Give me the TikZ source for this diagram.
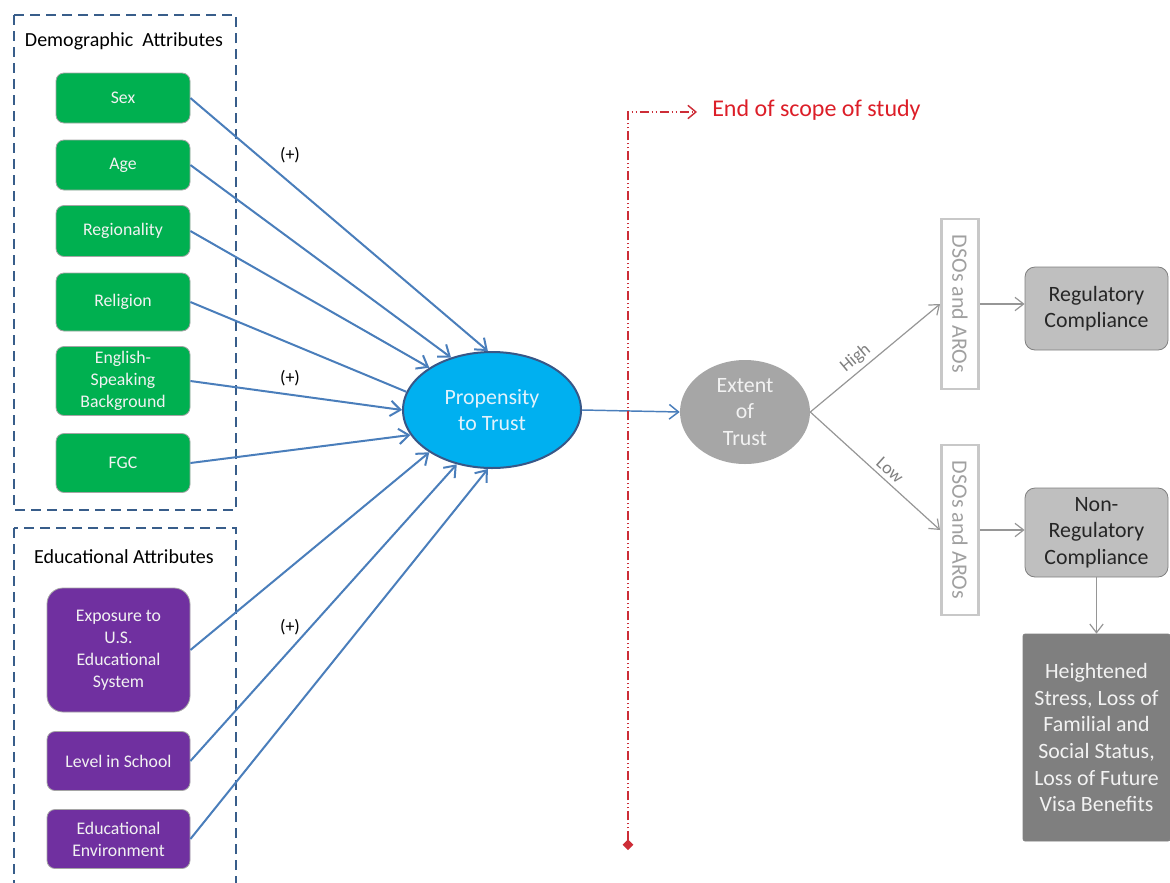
\documentclass[tikz,border=0pt]{standalone}
\usepackage{fontspec}
\setmainfont{Carlito}
\usetikzlibrary{arrows.meta,shapes.geometric}
\newdimen\PX \PX=0.75pt
\definecolor{mygreen}{RGB}{0,176,80}
\definecolor{mypurple}{RGB}{112,48,160}
\definecolor{boxline}{RGB}{165,165,165}
\definecolor{boxtext}{RGB}{242,242,242}
\definecolor{linkblue}{RGB}{74,126,187}
\definecolor{groupblue}{RGB}{56,93,138}
\definecolor{propfill}{RGB}{0,176,240}
\definecolor{propline}{RGB}{56,87,135}
\definecolor{proptext}{RGB}{225,242,252}
\definecolor{extfill}{RGB}{166,166,166}
\definecolor{greyline}{RGB}{150,150,150}
\definecolor{dsoline}{RGB}{200,200,200}
\definecolor{dsotext}{RGB}{160,160,160}
\definecolor{regfill}{RGB}{191,191,191}
\definecolor{regline}{RGB}{127,127,127}
\definecolor{darkgrey}{RGB}{127,127,127}
\definecolor{scopered}{RGB}{220,30,40}
\definecolor{scopeline}{RGB}{205,45,55}
\newcommand{\fTitle}{\fontsize{15}{18}\selectfont}
\newcommand{\fBox}{\fontsize{13.3}{16.5}\selectfont}
\newcommand{\fBig}{\fontsize{16.4}{20}\selectfont}
\newcommand{\fScope}{\fontsize{18}{22}\selectfont}
\newcommand{\fDso}{\fontsize{16.5}{20}\selectfont}
\newcommand{\fSmall}{\fontsize{13.5}{16}\selectfont}
\tikzset{
  gbox/.style={draw=boxline, line width=0.6pt, fill=mygreen, rounded corners=8\PX,
    minimum width=134\PX, inner sep=1pt, align=center, text=boxtext, font=\fBox},
  pbox/.style={gbox, fill=mypurple, minimum width=143\PX},
  groupbox/.style={draw=groupblue, line width=1.5pt, dash pattern=on 7.5pt off 4.5pt},
  grouptitle/.style={font=\fTitle, text=black},
  link/.style={draw=linkblue, line width=1.5pt, -{Straight Barb[length=7.5pt,width=11.5pt]}},
  linkline/.style={draw=linkblue, line width=1.5pt},
  plus/.style={font=\fSmall, text=black},
  greyarrow/.style={draw=greyline, line width=0.9pt, -{Straight Barb[length=6.5pt,width=10pt]}},
  dsobox/.style={draw=dsoline, line width=2.2pt, fill=white, rotate=-90,
    minimum width=170\PX, minimum height=37\PX, inner sep=0pt, text=dsotext, font=\fDso},
  regbox/.style={draw=regline, line width=0.6pt, fill=regfill, rounded corners=10\PX,
    minimum width=143\PX, align=center, text=black!85, font=\fBig, inner sep=0pt},
  branch/.style={font=\fSmall, text=darkgrey},
}
\begin{document}
\begin{tikzpicture}[x=0.75pt,y=-0.75pt]
\useasboundingbox (0,0) rectangle (1170,882);
\begin{scope}
\clip (0,0) rectangle (1170,882);
% group frames
\draw[groupbox] (14,15) rectangle (236,510);
\draw[groupbox] (14,528) rectangle (236,900);
\end{scope}
\node[grouptitle] (demtitle) at (124,41) {Demographic\ \ Attributes};
\node[grouptitle] (edutitle) at (124,557) {Educational Attributes};

% demographic boxes
\node[gbox, minimum height=50\PX] (sex) at (123,98) {Sex};
\node[gbox, minimum height=50\PX] (age) at (123,165) {Age};
\node[gbox, minimum height=51\PX] (reg) at (123,231) {Regionality};
\node[gbox, minimum height=58\PX] (rel) at (123,302) {Religion};
\node[gbox, minimum height=69\PX] (eng) at (123,381) {English-\\Speaking\\Background};
\node[gbox, minimum height=59\PX] (fgc) at (123,463) {FGC};

% educational boxes
\node[pbox, minimum height=124\PX, rounded corners=16\PX] (exp) at (118.5,650) {Exposure to\\U.S.\\Educational\\System};
\node[pbox, minimum height=59\PX] (lvl) at (118.5,761) {Level in School};
\node[pbox, minimum height=59\PX] (env) at (118.5,839) {Educational\\Environment};

% propensity
\node[ellipse, draw=propline, line width=1.5pt, fill=propfill, minimum width=178\PX,
  minimum height=116\PX, inner sep=0pt, align=center, text=proptext, font=\fBig] (prop) at (492,410)
  {Propensity\\to Trust};

\draw[link] (sex.east) -- (prop.94);
\draw[link] (age.east) -- (prop.128);
\draw[link] (reg.east) -- (prop.146);
\draw[linkline] (rel.east) -- (prop.168);
\draw[link] (eng.east) -- (prop.180);
\draw[link] (fgc.east) -- (prop.197);
\draw[link] (exp.east) -- (prop.214);
\draw[link] (lvl.east) -- (prop.237);
\draw[link] (env.east) -- (prop.266);

\node[plus] (p1) at (290,155) {(+)};
\node[plus] (p2) at (290,378) {(+)};
\node[plus] (p3) at (290,627) {(+)};

% extent of trust
\node[ellipse, fill=extfill, minimum width=130\PX, minimum height=104\PX, inner sep=0pt,
  align=center, text=boxtext, font=\fBig] (ext) at (745,412) {Extent\\of\\Trust};
\draw[draw=linkblue, line width=1.1pt, -{Straight Barb[length=7pt,width=11pt]}] (prop.east) -- (ext.west);

% end of scope
\coordinate (sbot) at (628,850);
\coordinate (stop) at (628,112);
\coordinate (send) at (697,112);
\draw[draw=scopeline, line width=1.1pt, dash pattern=on 7pt off 2pt on 1pt off 2pt on 1pt off 2pt,
  {Diamond[length=8pt,width=8pt]}-{Straight Barb[length=6pt,width=10pt]}] (sbot) -- (stop) -- (send);
\node[anchor=west, font=\fScope, text=scopered, inner sep=0pt] (scope) at (712,110) {End of scope of study};

% DSOs
\node[dsobox] (dso1) at (960,304) {DSOs and AROs};
\node[dsobox] (dso2) at (960,530) {DSOs and AROs};
\draw[greyarrow] (ext.east) -- node[branch, pos=0.41, above, sloped, inner sep=3pt] {High} (dso1.south);
\draw[greyarrow] (ext.east) -- node[branch, pos=0.56, above, sloped, inner sep=3pt] {Low} (dso2.south);

% compliance
\node[regbox, minimum height=83\PX] (regc) at (1096.5,308.5) {Regulatory\\Compliance};
\node[regbox, minimum height=89\PX] (nonreg) at (1096.5,532.5) {Non-\\Regulatory\\Compliance};
\node[draw=darkgrey, line width=0.5pt, fill=darkgrey, rounded corners=2\PX, minimum width=147\PX,
  minimum height=207\PX, inner sep=0pt, align=center, text=boxtext, font=\fBig] (conseq) at (1096.5,737.5)
  {Heightened\\Stress, Loss of\\Familial and\\Social Status,\\Loss of Future\\Visa Benefits};

\draw[greyarrow] (dso1.north) -- (dso1.north -| regc.west);
\draw[greyarrow] (dso2.north) -- (dso2.north -| nonreg.west);
\draw[greyarrow] (nonreg.south) -- (conseq.north);
\end{tikzpicture}
\end{document}
